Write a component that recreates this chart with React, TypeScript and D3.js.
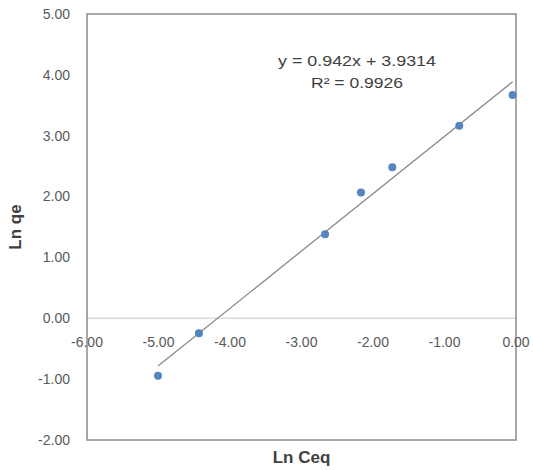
import React, { useEffect, useRef } from "react";
import * as d3 from "d3";

const lnCeq = [-5.007, -4.434, -2.671, -2.168, -1.73, -0.793, -0.047];
const lnQe = [-0.943, -0.246, 1.38, 2.067, 2.481, 3.165, 3.669];
const xTicks = [-6, -5, -4, -3, -2, -1, 0];
const yTicks = [-2, -1, 0, 1, 2, 3, 4, 5];
const slope = 0.942;
const intercept = 3.9314;
const eqLines = ["y = 0.942x + 3.9314", "R² = 0.9926"];

// plain hyphen for negatives, like the original
const fmt = (d: number) => d.toFixed(2);

export default function App() {
  const ref = useRef<SVGSVGElement>(null);

  useEffect(() => {
    const svg = d3.select(ref.current);
    svg.selectAll("*").remove();

    const left = 87, right = 516, top = 14, bottom = 440;
    const font = "'Liberation Sans', Arial, sans-serif";

    const x = d3.scaleLinear().domain([-6, 0]).range([left, right]);
    const y = d3.scaleLinear().domain([-2, 5]).range([bottom, top]);

    svg.append("rect").attr("width", 533).attr("height", 470).attr("fill", "#fff");

    // zero line
    svg.append("line")
      .attr("x1", left).attr("x2", right)
      .attr("y1", y(0)).attr("y2", y(0))
      .attr("stroke", "#d9d9d9").attr("stroke-width", 1.5);

    // plot frame
    svg.append("rect")
      .attr("x", left).attr("y", top)
      .attr("width", right - left).attr("height", bottom - top)
      .attr("fill", "none").attr("stroke", "#8c8c8c").attr("stroke-width", 1.5);

    // y tick labels
    svg.selectAll(".ytick").data(yTicks).join("text")
      .attr("class", "ytick")
      .attr("x", 70).attr("y", d => y(d))
      .attr("dy", "0.35em")
      .attr("text-anchor", "end")
      .attr("font-family", font).attr("font-size", 14)
      .attr("fill", "#595959")
      .text(fmt);

    // x tick labels along the zero line
    svg.selectAll(".xtick").data(xTicks).join("text")
      .attr("class", "xtick")
      .attr("x", d => x(d)).attr("y", y(0) + 24)
      .attr("dy", "0.35em")
      .attr("text-anchor", "middle")
      .attr("font-family", font).attr("font-size", 14)
      .attr("fill", "#595959")
      .text(fmt);

    // trendline over data range
    const [x0, x1] = d3.extent(lnCeq) as [number, number];
    svg.append("line")
      .attr("x1", x(x0)).attr("y1", y(slope * x0 + intercept))
      .attr("x2", x(x1)).attr("y2", y(slope * x1 + intercept))
      .attr("stroke", "#8a8a8a").attr("stroke-width", 1.3);

    // points
    svg.selectAll(".pt").data(lnCeq).join("circle")
      .attr("class", "pt")
      .attr("cx", d => x(d))
      .attr("cy", (d, i) => y(lnQe[i]))
      .attr("r", 4)
      .attr("fill", "#5485bf");

    // equation
    const eqWidths = [158, 92];
    svg.selectAll(".eq").data(eqLines).join("text")
      .attr("class", "eq")
      .attr("x", (d, i) => 357 - eqWidths[i] / 2).attr("y", (d, i) => 66 + i * 22)
      .attr("textLength", (d, i) => eqWidths[i])
      .attr("lengthAdjust", "spacingAndGlyphs")
      .attr("font-family", font).attr("font-size", 15)
      .attr("fill", "#404040")
      .text(d => d);

    // axis titles
    svg.append("text")
      .attr("x", (left + right) / 2).attr("y", 463)
      .attr("text-anchor", "middle")
      .attr("font-family", font).attr("font-size", 17).attr("font-weight", "bold")
      .attr("fill", "#404040")
      .text("Ln Ceq");

    svg.append("text")
      .attr("transform", `translate(21, ${(top + bottom) / 2}) rotate(-90)`)
      .attr("text-anchor", "middle")
      .attr("font-family", font).attr("font-size", 17).attr("font-weight", "bold")
      .attr("fill", "#404040")
      .text("Ln qe");
  }, []);

  return (
    <svg ref={ref} width={533} height={470}
      style={{ position: "absolute", left: 0, top: 0 }} />
  );
}
